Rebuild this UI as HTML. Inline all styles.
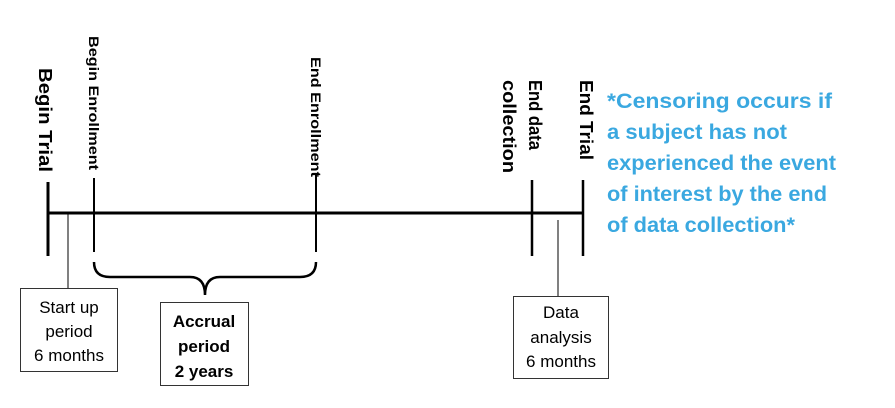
<!DOCTYPE html>
<html><head><style>body{margin:0;background:#fff}svg{display:block}</style></head><body>
<svg width="895" height="408" viewBox="0 0 895 408" xmlns="http://www.w3.org/2000/svg" font-family="Liberation Sans, Arial, sans-serif">
<g stroke="#000" fill="none">
<line x1="48" y1="213" x2="583" y2="213" stroke-width="3"/>
<line x1="48" y1="182" x2="48" y2="256" stroke-width="3"/>
<line x1="94" y1="178" x2="94" y2="252" stroke-width="2"/>
<line x1="316" y1="175" x2="316" y2="252" stroke-width="2"/>
<line x1="532" y1="180" x2="532" y2="256" stroke-width="2.5"/>
<line x1="583" y1="180" x2="583" y2="256" stroke-width="2.5"/>
<line x1="68" y1="213" x2="68" y2="288" stroke-width="1"/>
<line x1="558" y1="220" x2="558" y2="296" stroke-width="1"/>
<path d="M94 262 Q94 277 110 277 L190 277 Q205 277 205 295 Q205 277 220 277 L300 277 Q316 277 316 262" stroke-width="2.5"/>
<rect x="20.5" y="288.5" width="97" height="83" stroke-width="1" stroke="#333"/>
<rect x="160.5" y="302.5" width="88" height="83" stroke-width="1" stroke="#333"/>
<rect x="513.5" y="296.5" width="95" height="82" stroke-width="1" stroke="#333"/>
</g>
<g fill="#000" font-weight="bold">
<text transform="translate(39,68) rotate(90)" font-size="18" textLength="104" lengthAdjust="spacingAndGlyphs">Begin Trial</text>
<text transform="translate(89,36) rotate(90)" font-size="14" textLength="134" lengthAdjust="spacingAndGlyphs">Begin Enrollment</text>
<text transform="translate(311,57) rotate(90)" font-size="14" textLength="120" lengthAdjust="spacingAndGlyphs">End Enrollment</text>
<text transform="translate(529,80) rotate(90)" font-size="18" textLength="70" lengthAdjust="spacingAndGlyphs">End data</text>
<text transform="translate(503,80) rotate(90)" font-size="18" textLength="93" lengthAdjust="spacingAndGlyphs">collection</text>
<text transform="translate(580,80) rotate(90)" font-size="18" textLength="80" lengthAdjust="spacingAndGlyphs">End Trial</text>
</g>
<g fill="#000" font-size="17" text-anchor="middle">
<text x="69" y="313">Start up</text>
<text x="69" y="337">period</text>
<text x="69" y="361">6 months</text>
<text x="204" y="327" font-weight="bold">Accrual</text>
<text x="204" y="352" font-weight="bold">period</text>
<text x="204" y="377" font-weight="bold">2 years</text>
<text x="561" y="318">Data</text>
<text x="561" y="343">analysis</text>
<text x="561" y="367">6 months</text>
</g>
<g fill="#3aa8e0" font-size="21" font-weight="bold">
<text x="607" y="108" textLength="225" lengthAdjust="spacingAndGlyphs">*Censoring occurs if</text>
<text x="607" y="139" textLength="180" lengthAdjust="spacingAndGlyphs">a subject has not</text>
<text x="607" y="170" textLength="229" lengthAdjust="spacingAndGlyphs">experienced the event</text>
<text x="607" y="201" textLength="220" lengthAdjust="spacingAndGlyphs">of interest by the end</text>
<text x="607" y="232" textLength="188" lengthAdjust="spacingAndGlyphs">of data collection*</text>
</g>
</svg>
</body></html>
